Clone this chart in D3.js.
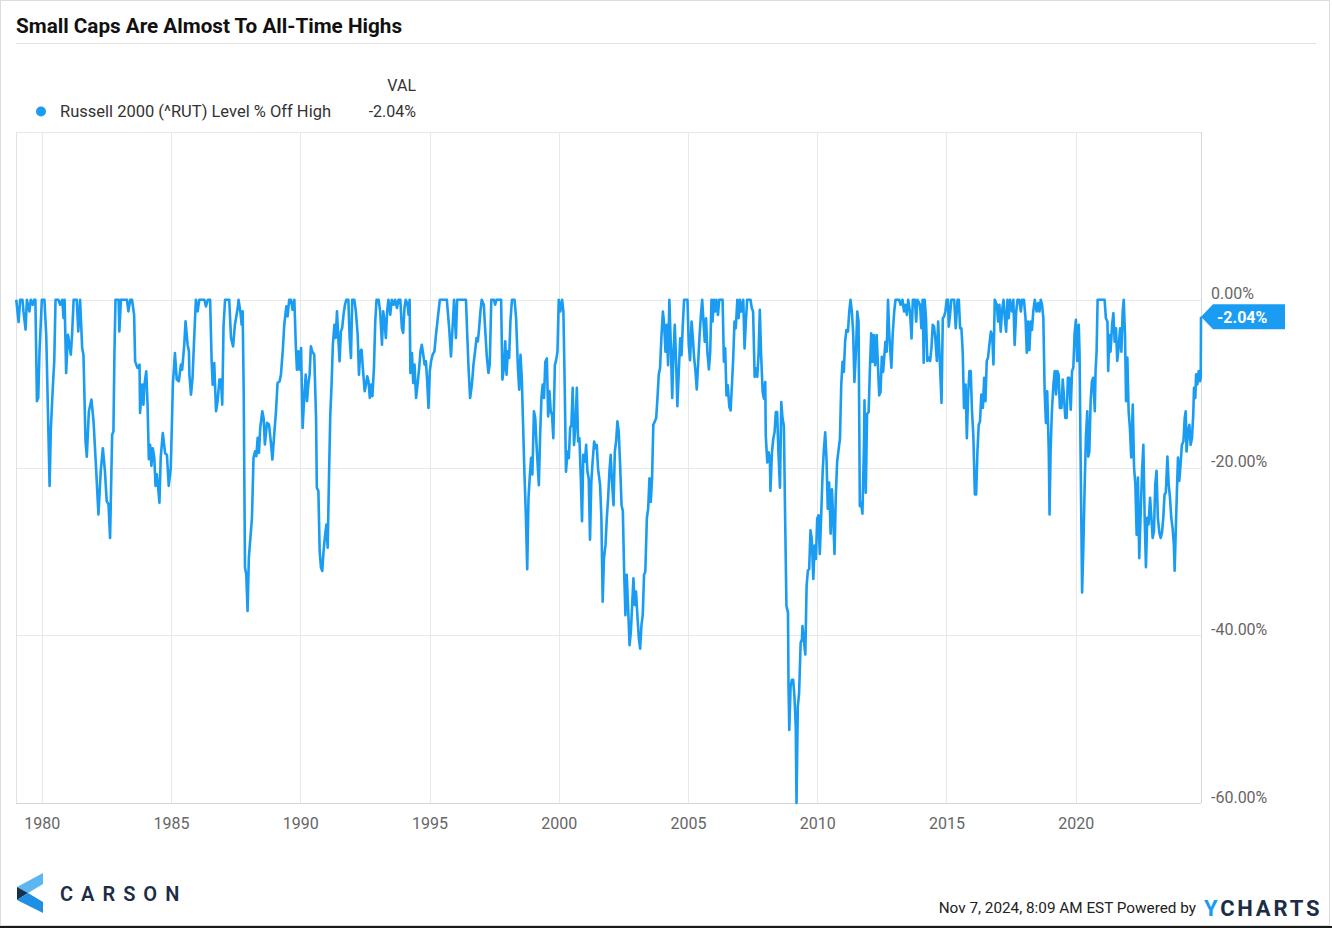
<!DOCTYPE html>
<html><head><meta charset="utf-8">
<script src="https://cdn.jsdelivr.net/npm/d3@7"></script>
<style>
body{margin:0;background:#fff}
svg{display:block}
text{font-family:Roboto,"Noto Sans",sans-serif}
</style>
</head><body>
<svg id="c" width="1332" height="928"></svg>
<script>
const title = "Small Caps Are Almost To All-Time Highs";
const seriesName = "Russell 2000 (^RUT) Level % Off High";
const valHeader = "VAL";
const lastValue = -2.04;
const xTicks = [1980, 1985, 1990, 1995, 2000, 2005, 2010, 2015, 2020];
const yTicks = [0, -20, -40, -60];
const footerText = "Nov 7, 2024, 8:09 AM EST Powered by";

// decimal years
const dates = [
1979.01,1979.10,1979.16,1979.25,1979.29,1979.37,1979.42,1979.52,1979.57,1979.65,1979.70,1979.75,1979.81,1979.86,1979.91,
1980.00,1980.10,1980.17,1980.30,1980.35,1980.43,1980.48,1980.53,1980.64,1980.71,1980.79,1980.84,1980.88,1980.94,
1981.01,1981.07,1981.12,1981.17,1981.23,1981.35,1981.41,1981.48,1981.56,1981.61,1981.69,1981.74,1981.82,1981.92,
1982.00,1982.09,1982.19,1982.28,1982.36,1982.44,1982.51,1982.58,1982.64,1982.72,1982.77,1982.81,1982.85,1982.97,
1983.00,1983.06,1983.29,1983.35,1983.42,1983.49,1983.57,1983.61,1983.70,1983.78,1983.80,1983.88,1983.93,1983.97,
1984.04,1984.09,1984.14,1984.19,1984.24,1984.29,1984.35,1984.40,1984.45,1984.50,1984.55,1984.60,1984.68,1984.77,1984.84,1984.91,1984.99,
1985.07,1985.15,1985.22,1985.30,1985.38,1985.43,1985.51,1985.56,1985.64,1985.69,1985.71,1985.77,1985.83,1985.90,1985.96,
1986.03,1986.09,1986.16,1986.29,1986.35,1986.42,1986.51,1986.57,1986.61,1986.67,1986.74,1986.80,1986.87,1986.93,1986.98,
1987.03,1987.09,1987.25,1987.32,1987.40,1987.47,1987.58,1987.61,1987.68,1987.73,1987.77,1987.81,1987.86,1987.91,1987.96,
1988.01,1988.07,1988.13,1988.19,1988.25,1988.30,1988.35,1988.40,1988.45,1988.53,1988.58,1988.63,1988.71,1988.79,1988.87,1988.92,1988.99,
1989.06,1989.12,1989.20,1989.25,1989.32,1989.38,1989.46,1989.51,1989.57,1989.64,1989.70,1989.77,1989.83,1989.87,1989.92,1989.97,
1990.03,1990.09,1990.15,1990.21,1990.26,1990.31,1990.36,1990.41,1990.46,1990.54,1990.61,1990.64,1990.70,1990.75,1990.80,1990.85,1990.90,1990.95,
1991.01,1991.06,1991.11,1991.16,1991.21,1991.26,1991.32,1991.37,1991.42,1991.47,1991.52,1991.57,1991.62,1991.68,1991.73,1991.78,1991.86,1991.91,1991.96,
1992.01,1992.09,1992.15,1992.22,1992.27,1992.32,1992.37,1992.42,1992.49,1992.54,1992.59,1992.64,1992.69,1992.74,1992.79,1992.85,1992.90,1992.95,
1993.03,1993.09,1993.16,1993.21,1993.26,1993.31,1993.36,1993.41,1993.48,1993.54,1993.61,1993.67,1993.74,1993.80,1993.87,1993.93,1993.98,
1994.03,1994.08,1994.15,1994.19,1994.23,1994.26,1994.32,1994.37,1994.42,1994.48,1994.55,1994.60,1994.65,1994.70,1994.75,1994.81,1994.86,1994.91,1994.96,
1995.01,1995.06,1995.12,1995.19,1995.25,1995.32,1995.40,1995.48,1995.67,1995.76,1995.83,1995.89,1995.95,
1996.02,1996.07,1996.25,1996.41,1996.46,1996.51,1996.57,1996.64,1996.70,1996.77,1996.82,1996.87,1996.92,1996.97,
1997.02,1997.10,1997.15,1997.22,1997.28,1997.33,1997.39,1997.49,1997.54,1997.59,1997.77,1997.82,1997.88,1997.93,1997.98,
1998.03,1998.08,1998.13,1998.19,1998.29,1998.35,1998.42,1998.47,1998.52,1998.57,1998.62,1998.67,1998.73,1998.78,1998.83,1998.88,1998.93,1998.98,
1999.04,1999.09,1999.14,1999.17,1999.23,1999.28,1999.33,1999.38,1999.43,1999.48,1999.54,1999.59,1999.64,1999.69,1999.74,1999.79,1999.85,1999.90,1999.95,
2000.00,2000.06,2000.13,2000.18,2000.23,2000.28,2000.34,2000.39,2000.44,2000.49,2000.54,2000.59,2000.65,2000.70,2000.75,2000.80,2000.85,2000.90,2000.95,
2001.01,2001.06,2001.11,2001.16,2001.21,2001.26,2001.32,2001.37,2001.42,2001.47,2001.52,2001.60,2001.65,2001.70,2001.75,2001.81,2001.86,2001.91,2001.96,
2002.01,2002.06,2002.12,2002.17,2002.22,2002.27,2002.32,2002.37,2002.43,2002.48,2002.53,2002.58,2002.63,2002.68,2002.74,2002.79,2002.84,2002.89,2002.94,2002.99,
2003.05,2003.10,2003.15,2003.20,2003.25,2003.30,2003.35,2003.41,2003.46,2003.51,2003.56,2003.61,2003.66,2003.72,2003.77,2003.82,2003.87,2003.92,2003.97,
2004.03,2004.08,2004.13,2004.18,2004.23,2004.28,2004.34,2004.39,2004.44,2004.49,2004.54,2004.59,2004.65,2004.70,2004.75,2004.80,2004.85,2004.98,
2005.03,2005.08,2005.14,2005.19,2005.24,2005.29,2005.34,2005.39,2005.45,2005.50,2005.55,2005.60,2005.65,2005.70,2005.75,2005.81,2005.86,2005.91,2005.95,
2006.00,2006.05,2006.10,2006.16,2006.21,2006.34,2006.39,2006.44,2006.49,2006.54,2006.60,2006.65,2006.70,2006.75,2006.80,2006.85,2006.91,2006.96,
2007.01,2007.06,2007.14,2007.19,2007.24,2007.29,2007.42,2007.47,2007.52,2007.58,2007.63,2007.68,2007.73,2007.78,2007.83,2007.89,2007.94,2007.99,
2008.01,2008.07,2008.12,2008.17,2008.19,2008.25,2008.30,2008.35,2008.40,2008.45,2008.50,2008.56,2008.61,2008.66,2008.71,2008.76,2008.81,2008.87,2008.89,2008.92,2008.97,
2009.02,2009.07,2009.12,2009.17,2009.20,2009.25,2009.30,2009.36,2009.41,2009.43,2009.48,2009.54,2009.59,2009.64,2009.69,2009.74,2009.79,2009.85,2009.90,2009.95,
2010.00,2010.05,2010.10,2010.15,2010.21,2010.26,2010.31,2010.36,2010.41,2010.46,2010.52,2010.57,2010.62,2010.67,2010.72,2010.77,2010.83,2010.88,2010.93,2010.98,
2011.03,2011.08,2011.13,2011.19,2011.24,2011.29,2011.34,2011.39,2011.44,2011.50,2011.55,2011.60,2011.65,2011.70,2011.75,2011.81,2011.83,2011.88,2011.93,2011.99,
2012.04,2012.09,2012.14,2012.19,2012.24,2012.30,2012.35,2012.40,2012.45,2012.50,2012.55,2012.60,2012.64,2012.69,2012.74,2012.79,2012.87,2012.92,2012.98,
2013.03,2013.17,2013.23,2013.30,2013.36,2013.41,2013.47,2013.52,2013.59,2013.65,2013.70,2013.78,2013.83,2013.88,2013.98,
2014.03,2014.08,2014.12,2014.16,2014.21,2014.26,2014.32,2014.37,2014.42,2014.47,2014.52,2014.57,2014.63,2014.68,2014.73,2014.81,2014.86,2014.91,2014.96,
2015.01,2015.06,2015.09,2015.14,2015.19,2015.30,2015.36,2015.43,2015.48,2015.53,2015.58,2015.63,2015.68,2015.74,2015.79,2015.84,2015.89,2015.94,2015.99,
2016.04,2016.10,2016.15,2016.20,2016.25,2016.30,2016.35,2016.41,2016.46,2016.51,2016.56,2016.61,2016.66,2016.72,2016.77,2016.82,2016.87,2016.95,
2017.00,2017.05,2017.10,2017.15,2017.21,2017.26,2017.31,2017.36,2017.41,2017.46,2017.54,2017.59,2017.64,2017.70,2017.75,2017.82,2017.88,2017.93,
2018.00,2018.06,2018.11,2018.16,2018.21,2018.26,2018.31,2018.36,2018.42,2018.49,2018.55,2018.60,2018.65,2018.70,2018.75,2018.80,2018.85,2018.90,2018.96,2018.99,
2019.03,2019.08,2019.14,2019.19,2019.24,2019.29,2019.34,2019.39,2019.45,2019.50,2019.55,2019.60,2019.65,2019.70,2019.75,2019.81,2019.86,2019.91,2019.96,
2020.01,2020.06,2020.12,2020.15,2020.19,2020.25,2020.30,2020.35,2020.40,2020.45,2020.49,2020.53,2020.58,2020.63,2020.68,2020.74,2020.77,2020.81,2020.85,2020.94,
2021.02,2021.12,2021.17,2021.23,2021.26,2021.30,2021.35,2021.41,2021.46,2021.51,2021.56,2021.61,2021.66,2021.72,2021.77,2021.82,2021.86,2021.91,2021.95,
2022.00,2022.05,2022.10,2022.15,2022.21,2022.26,2022.31,2022.36,2022.41,2022.46,2022.51,2022.57,2022.62,2022.67,2022.72,2022.77,2022.82,2022.88,2022.93,2022.98,
2023.03,2023.08,2023.13,2023.18,2023.24,2023.29,2023.34,2023.39,2023.44,2023.49,2023.55,2023.60,2023.65,2023.70,2023.75,2023.80,2023.83,2023.88,2023.93,2023.96,
2024.01,2024.06,2024.11,2024.17,2024.22,2024.26,2024.29,2024.35,2024.40,2024.45,2024.50,2024.55,2024.58,2024.63,2024.66,2024.71,2024.76,2024.81,2024.84,2024.85
];

// Russell 2000 level, % off all-time high
const offHigh = [
0,-2.66,0,0,-1.39,-3.57,0,-1.39,0,-0.6,0,0,-12.1,-11.7,-6.15,
0,0,-4.17,-22.2,-15.3,-10.1,-7.34,0,0,-0.6,0,-2.18,0,-8.73,
-4.17,-5.36,-6.55,-4.17,0,0,-3.77,0,-5.75,-6.55,-16.9,-18.7,-13.3,-11.9,
-14.5,-19.6,-25.6,-20.4,-17.7,-20.4,-24.0,-24.4,-28.4,-16.1,-15.7,-6.15,0,0,
-3.77,0,0,-1.39,0,0,-1.79,-7.34,-8.13,-7.74,-13.5,-10.1,-12.5,-10.1,
-8.53,-12.5,-19.0,-17.3,-19.8,-17.7,-18.8,-22.2,-20.8,-22.4,-24.2,-18.8,-15.9,-18.3,-18.5,-22.2,-20.0,
-10.1,-6.35,-9.52,-9.72,-7.74,-8.33,-5.36,-2.58,-5.36,-6.15,-8.93,-11.31,-9.33,-4.17,0,
-1.39,0,0,0,-0.79,0,0,-7.34,-10.12,-7.54,-13.29,-12.10,-9.52,-9.52,-12.50,
-3.17,0,0,-4.56,-5.56,-2.98,-0.99,0,-1.39,-2.98,-1.39,-10.91,-31.94,-32.74,-37.10,
-30.75,-28.37,-25.99,-18.85,-18.06,-18.65,-16.47,-18.25,-15.28,-13.29,-14.09,-17.26,-14.68,-14.88,-17.26,-19.05,-16.07,
-13.29,-9.92,-9.72,-8.93,-6.15,-2.98,-0.79,-1.98,0,0,-1.19,0,-5.75,-8.33,-6.15,-8.33,
-5.75,-15.28,-11.71,-8.93,-12.10,-10.12,-8.93,-5.56,-6.15,-6.55,-14.09,-22.42,-22.82,-29.96,-31.94,-32.34,-29.96,-28.37,
-26.79,-29.56,-21.23,-13.69,-10.12,-5.36,-2.98,-4.56,-1.39,-4.56,-7.34,-3.77,-3.37,-1.59,-0.60,0,0,-4.56,-6.94,
0,0,-1.39,-4.17,-8.93,-6.15,-5.95,-8.13,-10.91,-10.12,-9.13,-9.72,-11.71,-10.12,-11.51,-8.13,-2.58,0,
0,-1.39,-5.36,-1.39,-2.58,-4.56,-1.39,0,-1.79,0,-0.60,0,-0.99,0,0,-3.37,-3.97,
-0.99,0,-0.60,-1.79,0,-8.73,-6.35,-9.92,-7.74,-11.71,-9.72,-8.13,-6.15,-5.36,-6.35,-7.74,-7.34,-9.72,-12.90,
-8.53,-7.34,-6.55,-6.15,-4.17,-2.18,0,0,0,-3.37,-6.75,-3.37,0,
-4.56,0,0,0,-4.17,-8.13,-11.71,-10.12,-7.74,-5.95,-4.56,-4.96,-3.37,-1.39,
0,-0.60,-3.37,-6.94,-8.73,-7.74,0,0,-0.60,0,0,-9.52,-8.13,-4.96,-8.93,
-6.15,-6.94,-2.58,0,0,-2.18,-8.13,-10.71,-6.55,-9.33,-14.88,-20.44,-25.99,-32.14,-23.61,-21.03,-18.85,-20.83,
-13.29,-14.09,-17.26,-18.9,-22.1,-16.1,-11.7,-10.1,-11.7,-7.4,-7.0,-13.9,-10.9,-13.3,-13.7,-16.5,-7.8,-7.2,-6.2,
0,-1.4,0,-1.4,-10.1,-20.5,-18.1,-18.9,-15.3,-14.9,-10.5,-17.3,-14.9,-10.5,-16.9,-16.5,-20.9,-26.4,-18.5,
-19.3,-17.3,-20.5,-21.3,-28.6,-21.7,-18.9,-16.9,-17.7,-17.3,-20.1,-22.1,-26.0,-36.0,-30.8,-29.2,-26.0,-23.7,-20.5,
-18.5,-21.7,-24.5,-18.1,-16.9,-14.5,-15.7,-19.3,-24.5,-25.2,-32.4,-37.6,-32.8,-36.4,-41.2,-39.6,-36.4,-33.2,-36.4,-34.8,
-38.0,-40.4,-41.6,-38.8,-37.6,-32.8,-32.4,-26.0,-24.9,-21.3,-24.1,-21.3,-14.9,-14.5,-14.1,-11.7,-8.9,-8.2,-4.6,
-1.4,-3.0,-6.2,-3.0,-7.8,0,-5.8,-11.7,-6.2,-3.0,-7.4,-12.7,-8.2,-4.6,-6.6,-3.0,0,0,
-5.4,-7.2,-2.6,-4.6,-7.0,-8.5,-10.7,-7.8,-4.2,-1.8,0,-2.6,-5.0,-2.2,-6.2,-8.3,-6.2,0,-2.6,
0,-1.4,0,-1.8,0,0,-7.4,-5.8,-11.4,-10.2,-12.8,-13.2,-10.2,-7.0,-2.6,-3.4,0,-2.2,
0,-1.4,0,-5.8,-2.6,0,0,-1.0,-1.4,-9.2,-8.2,-9.2,-6.6,-1.2,-6.6,-11.0,-11.8,-9.8,
-16.2,-19.4,-18.2,-19.0,-22.8,-18.2,-16.6,-15.8,-13.4,-13.4,-18.2,-22.4,-12.2,-14.2,-15.0,-26.1,-36.5,-37.3,-46.1,-51.3,-46.1,
-45.3,-45.3,-47.3,-50.9,-60.0,-48.5,-46.9,-40.9,-40.5,-38.9,-40.5,-42.3,-34.1,-32.3,-32.1,-27.5,-28.5,-33.3,-29.3,-30.9,
-26.1,-25.7,-30.3,-26.1,-20.6,-17.8,-15.8,-19.0,-24.9,-21.8,-27.9,-22.6,-26.1,-30.3,-23.4,-19.4,-17.8,-16.6,-10.2,-7.4,
-8.6,-5.0,-3.6,-3.8,-1.4,0,-1.4,-3.8,-9.8,-6.2,-1.4,-2.6,-24.6,-24.2,-25.5,-17.4,-12.0,-23.0,-13.6,-13.4,
-8.2,-4.0,-7.4,-4.2,-7.8,-4.2,-7.8,-11.4,-11.0,-6.8,-8.6,-6.6,-5.0,-6.2,0,-4.2,-8.1,-4.2,-1.4,
0,0,-0.6,0,-1.4,-0.6,-1.8,0,-1.4,-4.6,0,0,-2.6,0,-0.6,
-3.4,0,-7.5,0,-2.2,-7.3,-6.9,-7.3,-5.8,-3.0,-3.2,-4.6,-7.3,-2.6,-6.2,-12.3,-2.2,-2.0,-1.4,
0,0,-3.2,-1.8,0,0,-3.4,0,0,-3.4,-3.4,-6.2,-12.9,-10.1,-16.5,-11.3,-8.5,-8.5,-13.3,
-16.1,-23.2,-23.2,-18.1,-14.9,-14.5,-11.3,-12.9,-9.3,-12.1,-7.3,-6.9,-5.4,-3.8,-4.2,-7.7,0,-0.6,
-2.6,-0.6,-3.8,-1.4,0,-2.2,-3.8,0,-2.2,0,-1.4,0,-5.4,-1.4,0,0,-1.4,0,
0,-2.2,-6.3,-2.6,-6.0,-2.6,-3.6,-1.4,0,-1.4,-0.4,-1.4,0,-0.6,-2.2,-10.9,-14.7,-10.9,-18.1,-25.6,
-18.1,-13.3,-10.1,-8.5,-11.3,-8.5,-8.9,-12.9,-12.9,-9.5,-11.7,-14.1,-14.1,-9.3,-9.3,-13.1,-8.5,-8.1,-4.0,
-2.4,-7.3,-3.0,-6.2,-18.1,-34.9,-29.2,-22.0,-16.1,-13.3,-18.7,-18.1,-12.1,-9.7,-9.3,-13.3,-8.5,-6.2,0,0,
0,0,-2.2,-2.6,-8.5,-4.2,-6.2,-3.0,-1.6,-5.0,-3.4,-7.3,-5.8,-3.4,-6.2,-1.4,0,-4.2,-12.1,
-6.9,-13.3,-15.3,-18.8,-12.5,-20.0,-22.0,-28.0,-21.2,-30.8,-26.0,-20.4,-17.3,-26.0,-31.9,-26.0,-26.8,-23.6,-26.0,-28.4,
-27.6,-22.0,-20.4,-26.0,-27.8,-28.4,-27.8,-26.0,-23.2,-23.0,-18.7,-22.0,-23.6,-26.0,-27.2,-29.2,-32.3,-26.8,-21.6,-18.8,
-21.6,-19.6,-17.3,-16.9,-14.1,-13.3,-18.1,-15.7,-14.9,-17.3,-16.5,-13.7,-10.5,-11.7,-8.9,-10.1,-8.5,-9.7,-9.3,-2.04
];

const W = 1332, H = 928;
const plot = {left: 16, right: 1201, top: 132, bottom: 803};
const lineColor = "#1a9cf2";
const pct = d => d3.format(".2f")(d).replace("\u2212", "-") + "%";

const svg = d3.select("#c");
const x = d3.scaleLinear().domain([1979.0, 2024.85]).range([plot.left, plot.right]);
const y = d3.scaleLinear().domain([-60, 20]).range([plot.bottom, plot.top]);

// frame
svg.append("rect").attr("x",0.5).attr("y",0.5).attr("width",1329).attr("height",925)
  .attr("fill","#fff").attr("stroke","#dcdcdc");
svg.append("line").attr("x1",0).attr("x2",W).attr("y1",927).attr("y2",927)
  .attr("stroke","#1a1a1a").attr("stroke-width",2);

// title
svg.append("text").attr("x",16).attr("y",33).text(title)
  .attr("font-size",20).attr("font-weight",700).attr("fill","#111")
  .attr("textLength",386).attr("lengthAdjust","spacingAndGlyphs");
svg.append("line").attr("x1",16).attr("x2",1316).attr("y1",43.5).attr("y2",43.5)
  .attr("stroke","#e2e2e2");

// legend
svg.append("text").attr("x",416).attr("y",91).attr("text-anchor","end")
  .attr("font-size",16).attr("fill","#333").text(valHeader);
svg.append("circle").attr("cx",41).attr("cy",111.5).attr("r",5).attr("fill",lineColor);
svg.append("text").attr("x",60).attr("y",117).attr("font-size",16).attr("fill","#333").text(seriesName)
  .attr("textLength",271).attr("lengthAdjust","spacingAndGlyphs");
svg.append("text").attr("x",416).attr("y",117).attr("text-anchor","end")
  .attr("font-size",16).attr("fill","#333").text(pct(lastValue));

// grid
const g = svg.append("g");
g.selectAll(".vg").data(xTicks).join("line")
  .attr("x1",d=>Math.round(x(d))+0.5).attr("x2",d=>Math.round(x(d))+0.5)
  .attr("y1",plot.top).attr("y2",plot.bottom).attr("stroke","#e8e8e8");
g.selectAll(".hg").data([20,0,-20,-40]).join("line")
  .attr("x1",plot.left).attr("x2",plot.right)
  .attr("y1",d=>Math.round(y(d))+0.5).attr("y2",d=>Math.round(y(d))+0.5).attr("stroke","#e8e8e8");
// plot border
g.append("line").attr("x1",plot.left+0.5).attr("x2",plot.left+0.5).attr("y1",plot.top).attr("y2",plot.bottom).attr("stroke","#e2e2e2");
g.append("line").attr("x1",plot.right+0.5).attr("x2",plot.right+0.5).attr("y1",plot.top).attr("y2",plot.bottom).attr("stroke","#d6d6d6");
g.append("line").attr("x1",plot.left).attr("x2",plot.right).attr("y1",plot.bottom+0.5).attr("y2",plot.bottom+0.5).attr("stroke","#d6d6d6");

// axes
const xAxis = d3.axisBottom(x).tickValues(xTicks).tickFormat(d3.format("d")).tickSize(0).tickPadding(0);
const xa = svg.append("g").attr("transform",`translate(0,${plot.bottom})`).call(xAxis);
xa.select(".domain").remove();
xa.selectAll("text").attr("y",26).attr("dy",0).attr("font-size",16).attr("fill","#666").attr("font-family","Roboto");

const yAxis = d3.axisRight(y).tickValues(yTicks).tickFormat(pct).tickSize(0).tickPadding(0);
const ya = svg.append("g").attr("transform",`translate(${plot.right+10},0)`).call(yAxis);
ya.select(".domain").remove();
ya.selectAll("text").attr("x",0).attr("dy",-1).attr("dominant-baseline","alphabetic")
  .attr("font-size",16).attr("fill","#666").attr("font-family","Roboto");

// series line
const data = dates.map((d,i)=>[d, offHigh[i]]);
const line = d3.line().x(d=>x(d[0])).y(d=>y(d[1]));
svg.append("path").datum(data).attr("d",line).attr("fill","none")
  .attr("stroke",lineColor).attr("stroke-width",2.6).attr("stroke-linejoin","round");

// last value tag
const px = x(dates[dates.length-1]), py = y(lastValue);
svg.append("path")
  .attr("d",`M${px},${py} L${px+12},${py-12.5} L${px+84},${py-12.5} L${px+84},${py+12.5} L${px+12},${py+12.5} Z`)
  .attr("fill",lineColor);
svg.append("text").attr("x",px+16).attr("y",py+6).attr("font-size",16).attr("font-weight",700)
  .attr("fill","#fff").text(pct(lastValue));

// footer: Carson logo
const logo = svg.append("g");
logo.append("polygon").attr("points","43,873 43,884 28,893 17,887").attr("fill","#5cb6ef");
logo.append("polygon").attr("points","17,887 28,893 17,900").attr("fill","#15324f");
logo.append("polygon").attr("points","17,900 28,893 43,902 43,913").attr("fill","#1e8fe3");
svg.append("text").attr("x",60).attr("y",900.5).attr("font-size",20).attr("font-weight",600)
  .attr("fill","#1c2d47").attr("letter-spacing",8).text("CARSON");

// footer: date + YCharts
svg.append("text").attr("x",1196).attr("y",913).attr("text-anchor","end").attr("font-size",15.3)
  .attr("fill","#222").text(footerText);
const yc = svg.append("text").attr("x",1204).attr("y",915.5).attr("font-size",22).attr("font-weight",700)
  .attr("letter-spacing",2.8);
yc.append("tspan").attr("fill","#1a9cf2").text("Y");
yc.append("tspan").attr("fill","#1c2d47").text("CHARTS");
</script>
</body></html>
